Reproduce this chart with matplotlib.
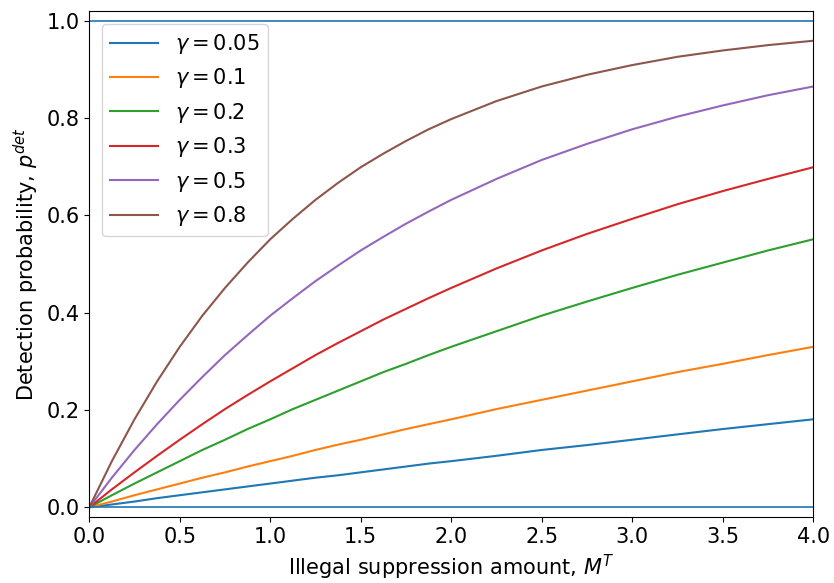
import matplotlib
matplotlib.use("Agg")
import matplotlib.pyplot as plt

# values, finer steps where the curves bend most
M = [0.0, 0.125, 0.25, 0.375, 0.5, 0.625, 0.75, 0.875, 1.0, 1.125, 1.25, 1.375, 1.5,
     1.625, 1.75, 1.875, 2.0, 2.25, 2.5, 2.75, 3.0, 3.25, 3.5, 3.75, 4.0]
gammas = ["0.05", "0.1", "0.2", "0.3", "0.5", "0.8"]
p_005 = [0.0, 0.006, 0.012, 0.019, 0.025, 0.031, 0.037, 0.043, 0.049, 0.055, 0.061, 0.066, 0.072,
         0.078, 0.084, 0.090, 0.095, 0.106, 0.118, 0.128, 0.139, 0.150, 0.161, 0.171, 0.181]
p_01 = [0.0, 0.012, 0.025, 0.037, 0.049, 0.061, 0.072, 0.084, 0.095, 0.106, 0.118, 0.129, 0.139,
        0.150, 0.161, 0.171, 0.181, 0.202, 0.221, 0.240, 0.259, 0.278, 0.295, 0.313, 0.330]
p_02 = [0.0, 0.025, 0.049, 0.072, 0.095, 0.118, 0.139, 0.161, 0.181, 0.202, 0.221, 0.240, 0.259,
        0.278, 0.295, 0.313, 0.330, 0.362, 0.394, 0.423, 0.451, 0.478, 0.503, 0.528, 0.551]
p_03 = [0.0, 0.037, 0.072, 0.106, 0.139, 0.171, 0.202, 0.231, 0.259, 0.286, 0.313, 0.338, 0.362,
        0.386, 0.408, 0.430, 0.451, 0.491, 0.528, 0.562, 0.593, 0.623, 0.650, 0.675, 0.699]
p_05 = [0.0, 0.061, 0.118, 0.171, 0.221, 0.268, 0.313, 0.354, 0.394, 0.430, 0.465, 0.497, 0.528,
        0.556, 0.583, 0.608, 0.632, 0.675, 0.714, 0.747, 0.777, 0.803, 0.826, 0.847, 0.865]
p_08 = [0.0, 0.095, 0.181, 0.259, 0.330, 0.394, 0.451, 0.503, 0.551, 0.593, 0.632, 0.667, 0.699,
        0.727, 0.753, 0.777, 0.798, 0.835, 0.865, 0.889, 0.909, 0.926, 0.939, 0.950, 0.959]
series = [p_005, p_01, p_02, p_03, p_05, p_08]
bounds = [0.0, 1.0]

plt.rcParams['font.size'] = 15

fig, ax = plt.subplots(figsize=(8.34, 5.83), dpi=100)
for g, p in zip(gammas, series):
    ax.plot(M, p, lw=1.5, label=r"$\gamma = %s$" % g)
for b in bounds:
    ax.axhline(b, color="C0", lw=1.2)

ax.set_xlim(0, 4)
ax.set_ylim(-0.02, 1.02)
ax.set_xticks([0, 0.5, 1.0, 1.5, 2.0, 2.5, 3.0, 3.5, 4.0])
ax.set_yticks([0, 0.2, 0.4, 0.6, 0.8, 1.0])
ax.set_xlabel(r"Illegal suppression amount, $M^T$")
ax.set_ylabel(r"Detection probability, $p^{det}$")
ax.legend(loc="upper left", handlelength=2.3, borderaxespad=0.6)
plt.subplots_adjust(left=0.107, right=0.975, top=0.981, bottom=0.113)
plt.savefig("out.png")
